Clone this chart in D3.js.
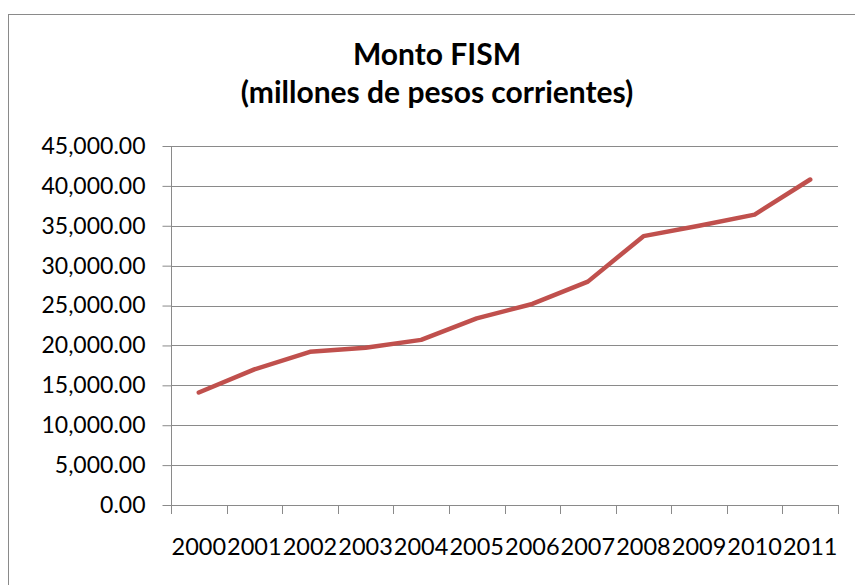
<!DOCTYPE html>
<html>
<head>
<meta charset="utf-8">
<script src="https://cdn.jsdelivr.net/npm/d3@7"></script>
<style>
  html, body { margin: 0; padding: 0; background: #fff; }
  svg { display: block; }
</style>
</head>
<body>
<svg id="chart" width="855" height="585"></svg>
<script>
const years = ["2000","2001","2002","2003","2004","2005","2006","2007","2008","2009","2010","2011"];
const montoFISM = [14100, 17000, 19200, 19700, 20700, 23400, 25200, 28000, 33700, 35000, 36400, 40800];
const yTicks = [0, 5000, 10000, 15000, 20000, 25000, 30000, 35000, 40000, 45000];
const titleLines = ["Monto FISM", "(millones de pesos corrientes)"];

(function () {
const svg = d3.select("#chart");
const FONT = "Lato, 'Open Sans', sans-serif";
const gridColor = "#8a8a8a";

// chart border (left and top visible)
svg.append("rect")
  .attr("x", 8.5).attr("y", 14.5)
  .attr("width", 900).attr("height", 700)
  .attr("fill", "none").attr("stroke", "#8a8a8a").attr("stroke-width", 1);

const pLeft = 171, pRight = 838, pTop = 146, pBottom = 505;

const x = d3.scaleBand().domain(years).range([pLeft, pRight]).paddingInner(0).paddingOuter(0);
const y = d3.scaleLinear().domain([0, 45000]).range([pBottom, pTop]);

// gridlines
svg.append("g").selectAll("line").data(yTicks).join("line")
  .attr("x1", pLeft).attr("x2", pRight)
  .attr("y1", d => Math.round(y(d)) + 0.5).attr("y2", d => Math.round(y(d)) + 0.5)
  .attr("stroke", gridColor).attr("stroke-width", 1);

// y axis
const yAxis = svg.append("g")
  .attr("transform", `translate(${pLeft + 0.5},0)`)
  .call(d3.axisLeft(y).tickValues(yTicks).tickSize(9).tickPadding(17)
    .tickFormat(d3.format(",.2f")));
yAxis.select(".domain").attr("stroke", gridColor).attr("d", `M0,${pTop}V${pBottom}`);
yAxis.selectAll(".tick line").attr("stroke", gridColor);
yAxis.selectAll(".tick text")
  .attr("font-family", FONT).attr("font-size", 23).attr("fill", "#000");

// x axis line and ticks at category boundaries
const xg = svg.append("g");
xg.append("line").attr("x1", pLeft).attr("x2", pRight)
  .attr("y1", pBottom + 0.5).attr("y2", pBottom + 0.5)
  .attr("stroke", gridColor);
const bounds = years.map(d => x(d)).concat([x.range()[1]]);
xg.selectAll("line.tk").data(bounds).join("line").attr("class", "tk")
  .attr("x1", d => Math.round(d) + 0.5).attr("x2", d => Math.round(d) + 0.5)
  .attr("y1", pBottom).attr("y2", pBottom + 9)
  .attr("stroke", gridColor);
xg.selectAll("text").data(years).join("text")
  .attr("x", d => x(d) + x.bandwidth() / 2)
  .attr("y", 555)
  .attr("text-anchor", "middle")
  .attr("font-family", FONT).attr("font-size", 23.5).attr("fill", "#000")
  .text(d => d);

// line
const line = d3.line()
  .x((d, i) => x(years[i]) + x.bandwidth() / 2)
  .y(d => y(d));
svg.append("path").datum(montoFISM)
  .attr("d", line)
  .attr("fill", "none")
  .attr("stroke", "#C0504D")
  .attr("stroke-width", 4.5)
  .attr("stroke-linejoin", "round")
  .attr("stroke-linecap", "round");

// title
svg.append("g").selectAll("text").data(titleLines).join("text")
  .attr("x", 437)
  .attr("y", (d, i) => 65 + i * 38)
  .attr("text-anchor", "middle")
  .attr("font-family", FONT).attr("font-weight", "bold").attr("font-size", 30)
  .attr("fill", "#000")
  .text(d => d);
})();
</script>
</body>
</html>
